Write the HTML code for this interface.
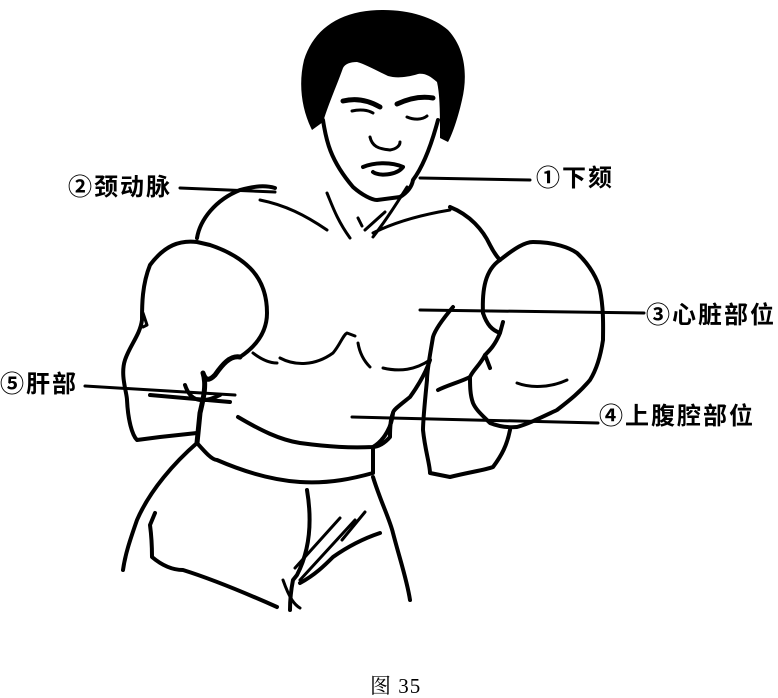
<!DOCTYPE html>
<html><head><meta charset="utf-8"><style>
html,body{margin:0;padding:0;background:#fff;}
.w{position:relative;width:778px;height:698px;overflow:hidden;background:#fff;}
.t{position:absolute;font-family:"Liberation Sans","Noto Sans CJK SC",sans-serif;font-weight:bold;font-size:24px;letter-spacing:2px;color:#000;line-height:1;white-space:nowrap;}
svg{position:absolute;left:0;top:0;}
</style></head><body><div class="w">
<svg width="778" height="698" viewBox="0 0 778 698" fill="none" stroke="#000" stroke-width="4" stroke-linecap="round" stroke-linejoin="round">
<!-- hair -->
<path fill="#000" stroke="none" d="M312,130 C302,110 298,85 304,60 C312,35 330,18 360,12 C395,6 430,14 448,30 C465,48 468,75 462,100 C458,118 452,135 448,142 L440,138 C440,115 440,95 437,82 C430,76 425,73 418,74 C405,78 395,78 388,76 C375,70 365,64 357,62 C350,62 345,64 343,68 C337,85 330,100 323,122 Z"/>
<path d="M323,120 C326,140 330,160 353,187 C362,195 372,200 377,200 L400,197 C408,192 412,186 413,180 C422,168 430,150 438,120"/>
<path stroke-width="5" d="M343,101 C355,98 368,100 380,107"/>
<path stroke-width="5" d="M397,104 C410,98 422,96 433,98"/>
<path stroke-width="3" d="M352,111 C360,109 368,110 373,113 M407,117 C414,120 422,120 427,116"/>
<path stroke-width="3" d="M370,137 C372,146 378,149 390,150 C396,149 400,146 400,142"/>
<path stroke-width="4" d="M363,167 C375,162 392,162 403,167 C396,176 378,176 373,172"/>
<!-- neck/collar -->
<path stroke-width="3" d="M327,193 C332,205 337,220 350,238 M407,187 C400,198 390,215 373,237 M260,200 C285,205 305,215 327,230 M373,233 C395,222 420,215 450,210 M358,218 L362,226 M365,230 L385,212"/>
<!-- shoulders -->
<path d="M197,238 C200,220 215,200 240,190 C255,186 265,185 275,188"/>
<path d="M450,207 C470,215 483,230 490,245 C495,255 500,260 500,260"/>
<!-- left glove -->
<path d="M197,242 C180,240 165,245 150,265 C142,285 142,305 142,320 C140,335 130,345 125,360 C120,375 127,393 127,400 C128,420 132,435 137,440 L160,437 L197,433 M240,357 C258,345 267,330 267,313 C267,295 262,280 250,268 C240,258 225,250 210,245 L197,242"/>
<path d="M185,385 C190,400 200,405 220,395 M150,395 L230,402"/>
<path stroke-width="5" d="M240,357 C230,355 222,365 215,375 C210,380 206,382 203,373 C207,385 203,400 200,413 L197,443"/>
<path stroke-width="3" d="M143,313 L147,325 L143,327"/>
<!-- trunk/shorts -->
<path d="M197,443 C175,462 150,490 137,520 C130,540 125,555 123,570"/>
<path d="M155,513 L150,525 C152,540 152,550 152,557 C165,568 175,570 183,570 C215,580 250,595 277,607"/>
<path d="M307,490 C312,520 310,550 297,575 L293,580 C290,595 290,605 290,610"/>
<path d="M373,477 C380,500 390,520 393,533 C400,560 407,580 410,600"/>
<path d="M300,583 C315,575 325,565 333,557 C350,545 365,538 380,533"/>
<path stroke-width="3" d="M283,580 C290,600 295,605 300,608 M295,568 L340,518 M300,580 L355,520 M342,540 L365,512"/>
<!-- waistband -->
<path d="M238,417 C260,430 280,440 300,443 C330,447 350,448 373,447 C385,440 392,425 393,413"/>
<path d="M197,443 C205,452 212,460 217,460 C240,470 270,480 300,482 C330,484 355,478 373,473 L373,447"/>
<!-- chest -->
<path stroke-width="3" d="M253,353 C262,360 270,363 277,363 M280,358 C295,366 315,366 333,353 C340,345 343,335 347,333 L355,336 M358,343 C360,355 365,362 370,367 M383,368 C400,372 415,370 430,360"/>
<!-- right arm & glove -->
<path d="M430,360 C425,375 415,390 410,397 C400,405 393,410 393,413 C390,420 390,430 390,437 C385,443 378,447 373,447"/>
<path d="M453,307 C442,320 435,330 433,337 C430,355 427,370 427,380 C425,400 423,420 423,430 C425,450 430,465 430,473 L450,477 C470,472 485,470 493,467 C502,455 507,445 510,430"/>
<path d="M500,260 C515,248 525,242 533,242 C555,242 570,248 577,253 C590,265 598,280 600,290 C604,310 603,330 603,340 C600,360 595,372 590,380 C580,392 570,400 557,410 C540,418 528,424 517,427 C505,428 495,425 490,423 C482,415 476,410 473,403 C470,395 470,385 470,377"/>
<path d="M483,313 C482,290 485,270 500,260"/>
<path d="M483,313 C487,325 492,330 500,333 L503,322 M500,333 C495,345 490,350 485,355 C480,365 473,370 470,377 M485,355 L490,368 M470,377 C460,382 448,385 438,390"/>
<path stroke-width="3" d="M517,383 C530,388 550,388 567,380"/>
<!-- leader lines -->
<path stroke-width="3" d="M180,188 L275,192 M420,178 L530,180 M420,310 L644,313 M85,386 L235,395 M352,417 L598,423"/>
</svg>
<div class="t" style="left:68px;top:176px;">②颈动脉</div>
<div class="t" style="left:536px;top:167px;">①下颏</div>
<div class="t" style="left:646px;top:304px;">③心脏部位</div>
<div class="t" style="left:0px;top:373px;">⑤肝部</div>
<div class="t" style="left:599px;top:405px;">④上腹腔部位</div>
<div class="t" style="left:370px;top:676px;font-weight:normal;font-size:21px;letter-spacing:1px;font-family:'Liberation Serif','Noto Serif CJK SC',serif;">图 35</div>
</div></body></html>
